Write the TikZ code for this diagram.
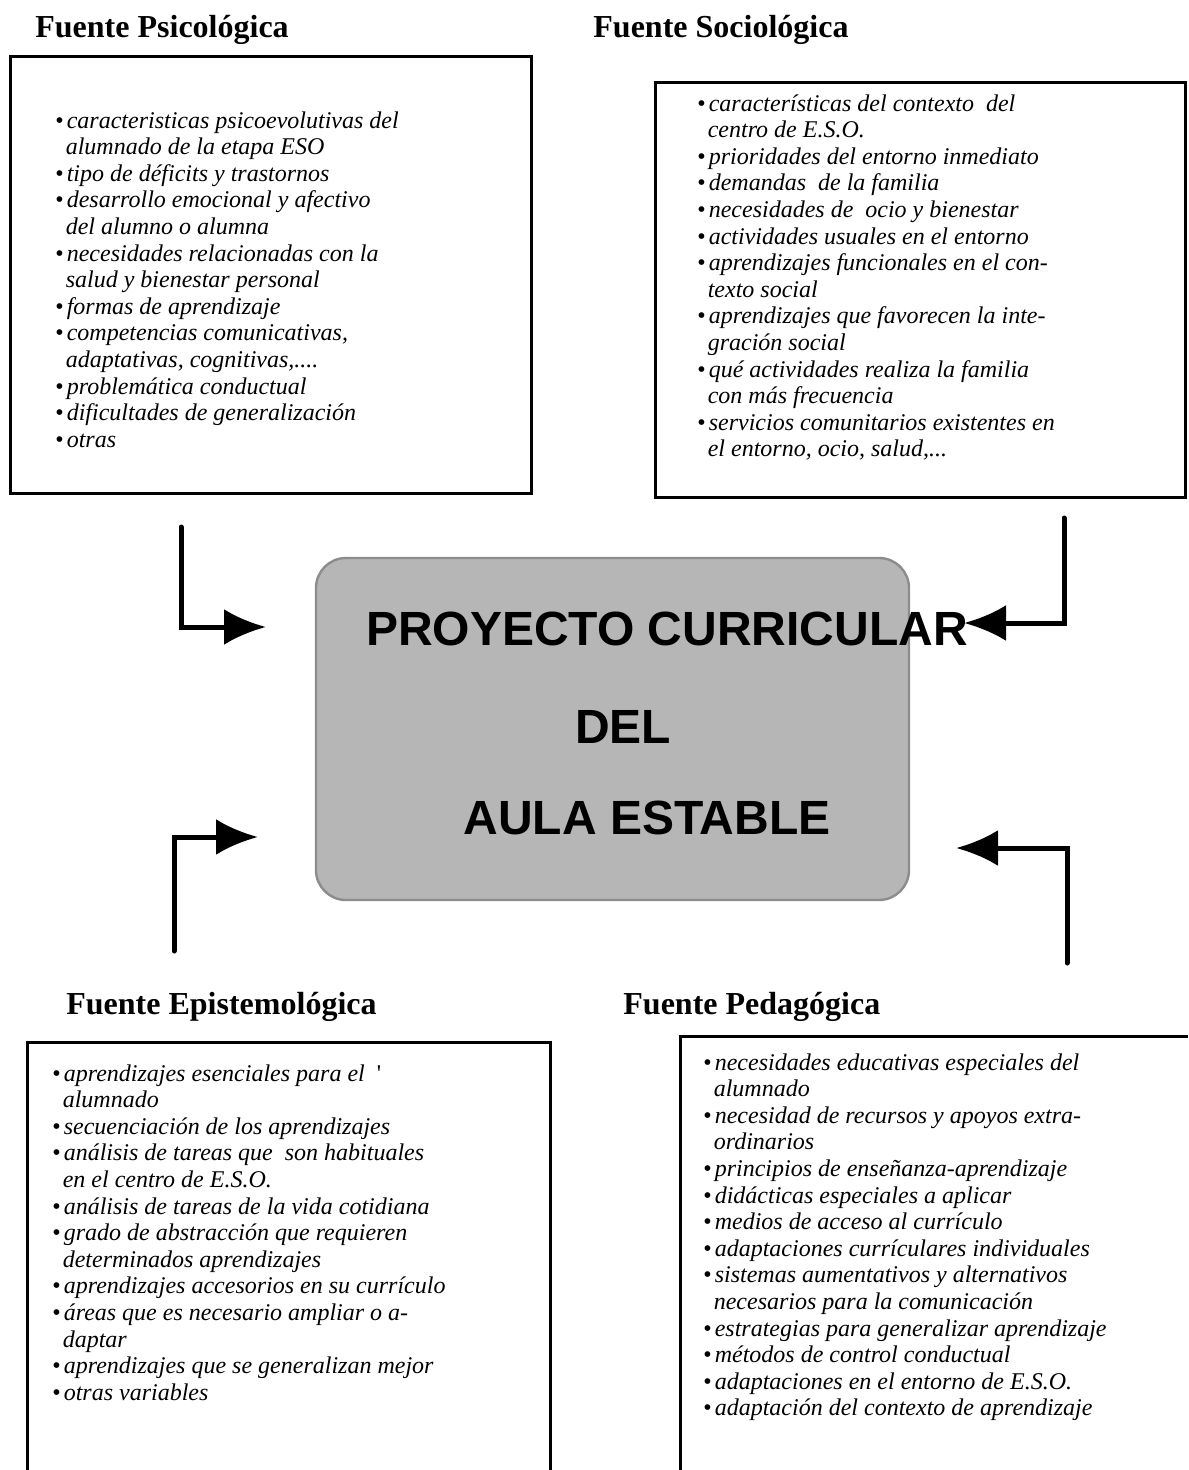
\documentclass[tikz,border=0pt]{standalone}
\usepackage{fontspec}
\setmainfont{Liberation Serif}
\setsansfont{Liberation Sans}
\usetikzlibrary{arrows.meta}
\definecolor{grisfondo}{RGB}{182,182,182}
\definecolor{grisborde}{RGB}{140,140,140}
\newcommand{\vineta}{\textup{\textbullet}\hspace{1.5pt}}
\newcommand{\sigue}{\phantom{\textbullet}\hspace{1pt}}

\begin{document}
\begin{tikzpicture}[x=0.5pt,y=-0.5pt,
    caja/.style={line width=1.5pt},
    titulo/.style={anchor=base west,inner sep=0pt,font=\bfseries\fontsize{16pt}{16pt}\selectfont},
    lista/.style={anchor=north west,inner sep=0pt,align=left,font=\itshape\fontsize{12pt}{13.3pt}\selectfont},
    rotulo/.style={anchor=base,inner sep=0pt,font=\sffamily\bfseries\fontsize{24pt}{24pt}\selectfont},
    flecha/.style={line width=2.5pt,line cap=round,-{Latex[length=21pt,width=18pt]}}]
    \useasboundingbox (0,0) rectangle (1188,1470);
    % top left: fuente psicologica
    \node [titulo] (tpsico) at (35,38) {Fuente Psicológica};
    \draw [caja] (10,57) rectangle (531,493);
    \node [lista] (lpsico) at (55,111) {\vineta caracteristicas psicoevolutivas del\\
        \sigue alumnado de la etapa ESO\\
        \vineta tipo de déficits y trastornos\\
        \vineta desarrollo emocional y afectivo\\
        \sigue del alumno o alumna\\
        \vineta necesidades relacionadas con la\\
        \sigue salud y bienestar personal\\
        \vineta formas de aprendizaje\\
        \vineta competencias comunicativas,\\
        \sigue adaptativas, cognitivas,....\\
        \vineta problemática conductual\\
        \vineta dificultades de generalización\\
        \vineta otras};
    % top right: fuente sociologica
    \node [titulo] (tsocio) at (593,38) {Fuente Sociológica};
    \draw [caja] (655,83) rectangle (1185,497);
    \node [lista] (lsocio) at (697,94) {\vineta características del contexto \ del\\
        \sigue centro de E.S.O.\\
        \vineta prioridades del entorno inmediato\\
        \vineta demandas \ de la familia\\
        \vineta necesidades de \ ocio y bienestar\\
        \vineta actividades usuales en el entorno\\
        \vineta aprendizajes funcionales en el con-\\
        \sigue texto social\\
        \vineta aprendizajes que favorecen la inte-\\
        \sigue gración social\\
        \vineta qué actividades realiza la familia\\
        \sigue con más frecuencia\\
        \vineta servicios comunitarios existentes en\\
        \sigue el entorno, ocio, salud,...};
    % central box
    \node [draw=grisborde,line width=1.2pt,fill=grisfondo,rounded corners=15pt,
        minimum width=296.5pt,minimum height=171pt,inner sep=0pt] (proy) at (612.5,729) {};
    \node [rotulo] (proy1) at (667,645) {PROYECTO CURRICULAR};
    \node [rotulo] (proy2) at (623,743) {DEL};
    \node [rotulo] (proy3) at (647,834) {AULA ESTABLE};
    % bottom left: fuente epistemologica
    \node [titulo] (tepis) at (66,1014) {Fuente Epistemológica};
    \draw [caja] (27,1470) -- (27,1042) -- (550,1042) -- (550,1470);
    \node [lista] (lepis) at (52,1064) {\vineta aprendizajes esenciales para el \ \textup{\textquotesingle}\\
        \sigue alumnado\\
        \vineta secuenciación de los aprendizajes\\
        \vineta análisis de tareas que \ son habituales\\
        \sigue en el centro de E.S.O.\\
        \vineta análisis de tareas de la vida cotidiana\\
        \vineta grado de abstracción que requieren\\
        \sigue determinados aprendizajes\\
        \vineta aprendizajes accesorios en su currículo\\
        \vineta áreas que es necesario ampliar o a-\\
        \sigue daptar\\
        \vineta aprendizajes que se generalizan mejor\\
        \vineta otras variables};
    % bottom right: fuente pedagogica
    \node [titulo] (tpeda) at (623,1014) {Fuente Pedagógica};
    \draw [caja] (680,1470) -- (680,1036) -- (1188,1036);
    \node [lista] (lpeda) at (703,1053) {\vineta necesidades educativas especiales del\\
        \sigue alumnado\\
        \vineta necesidad de recursos y apoyos extra-\\
        \sigue ordinarios\\
        \vineta principios de enseñanza-aprendizaje\\
        \vineta didácticas especiales a aplicar\\
        \vineta medios de acceso al currículo\\
        \vineta adaptaciones currículares individuales\\
        \vineta sistemas aumentativos y alternativos\\
        \sigue necesarios para la comunicación\\
        \vineta estrategias para generalizar aprendizaje\\
        \vineta métodos de control conductual\\
        \vineta adaptaciones en el entorno de E.S.O.\\
        \vineta adaptación del contexto de aprendizaje};
    % arrows
    \coordinate (a1) at (181,527);  \coordinate (t1) at (266,627);
    \coordinate (a2) at (1064,518); \coordinate (t2) at (964,623);
    \coordinate (a3) at (174,951);  \coordinate (t3) at (258,837);
    \coordinate (a4) at (1067,963); \coordinate (t4) at (956,848);
    \draw [flecha] (a1) |- (t1);
    \draw [flecha] (a2) |- (t2);
    \draw [flecha] (a3) |- (t3);
    \draw [flecha] (a4) |- (t4);
\end{tikzpicture}
\end{document}
